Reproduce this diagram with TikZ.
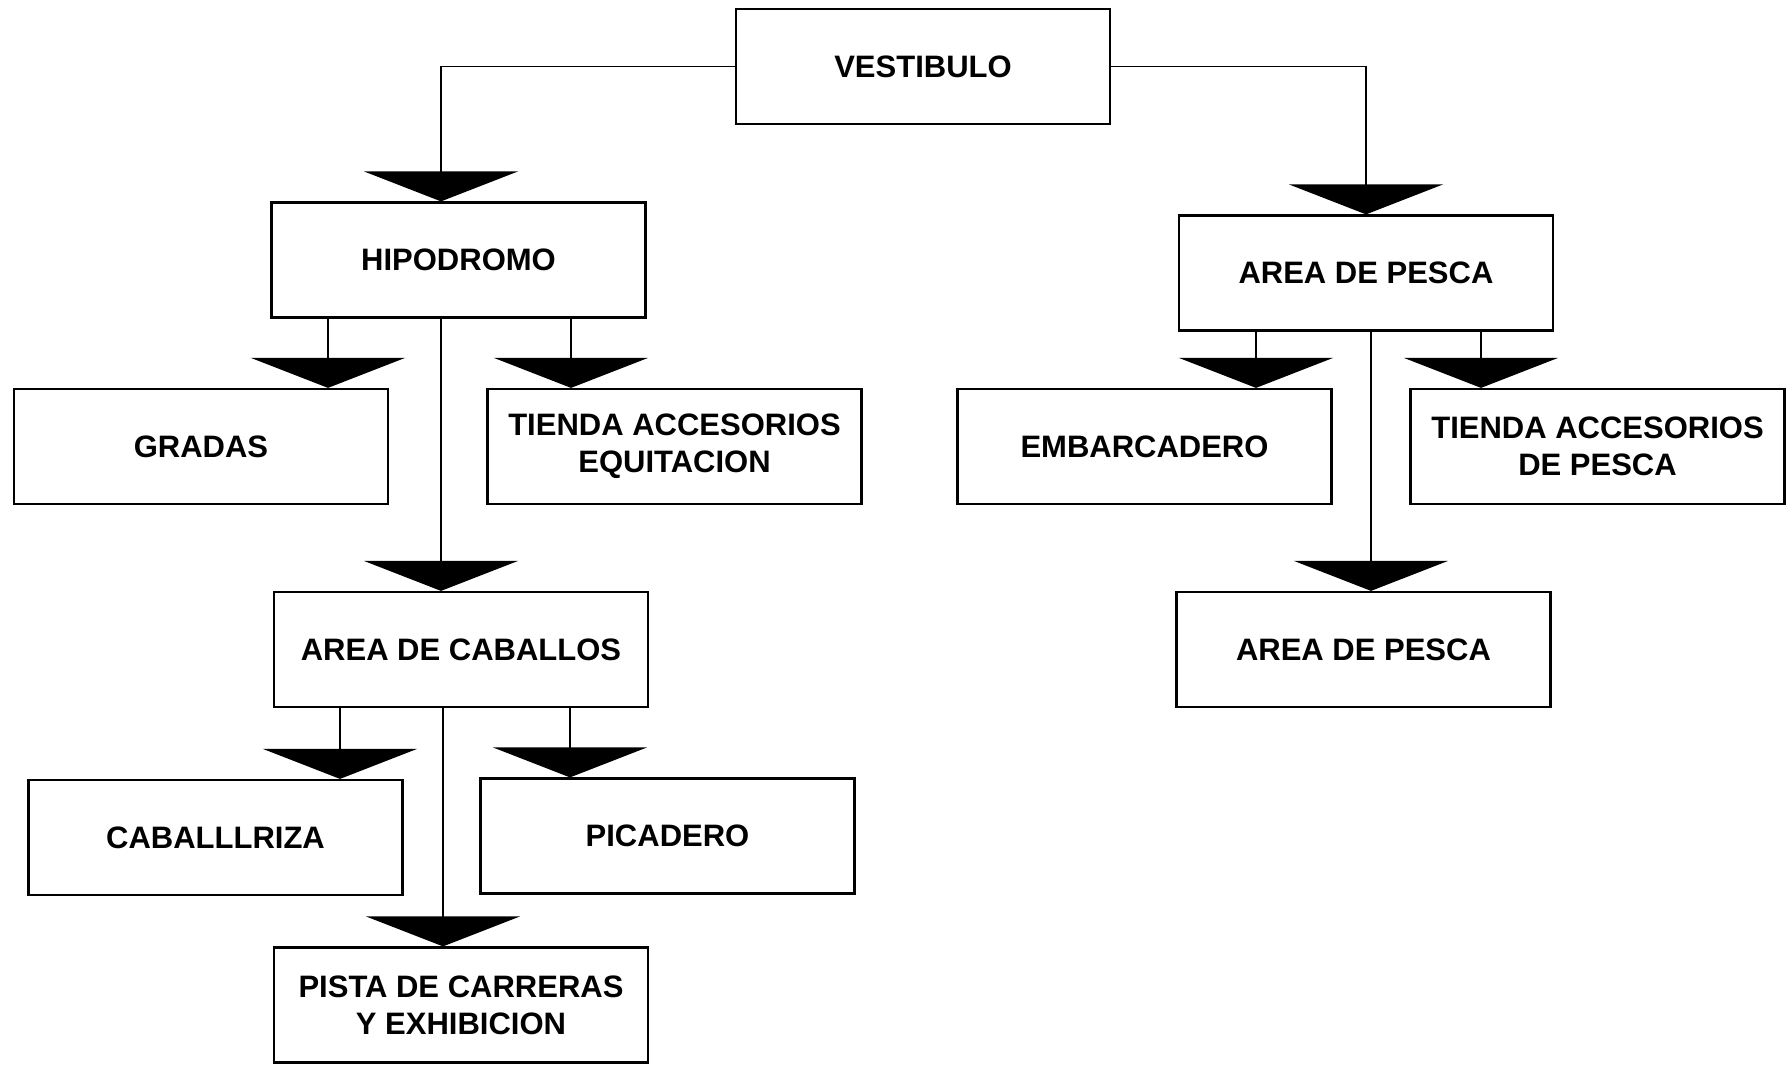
\documentclass[tikz,border=0pt]{standalone}
\usepackage{fontspec}
\setmainfont{Liberation Sans}
\usetikzlibrary{arrows.meta,positioning}

\begin{document}
\begin{tikzpicture}[x=0.5pt, y=-0.5pt,
    block/.style={rectangle, draw, line width=1.1pt, minimum width=187pt, minimum height=57.5pt, inner sep=2pt, align=center, font=\fontsize{15.5}{18.5}\selectfont\bfseries},
    arrow/.style={-{Triangle[width=77pt,length=15pt]}, line width=0.9pt}
]
    \useasboundingbox (0,0) rectangle (1791,1065);

    \node[block] (vest) at (923, 66.5) {VESTIBULO};

    % Hipodromo
    \node[block] (hipo) at (458.5, 260) {HIPODROMO};
    \node[block] (gradas) at (201, 446.5) {GRADAS};
    \node[block] (tiendaeq) at (674.5, 446.5) {TIENDA ACCESORIOS\\EQUITACION};
    \node[block] (caballos) at (461, 649.5) {AREA DE CABALLOS};
    \node[block] (caballeriza) at (215.5, 837.5) {CABALLLRIZA};
    \node[block] (picadero) at (667.5, 836) {PICADERO};
    \node[block] (pista) at (461, 1005) {PISTA DE CARRERAS\\Y EXHIBICION};

    % Pesca
    \node[block] (pesca) at (1366, 273) {AREA DE PESCA};
    \node[block] (embarcadero) at (1144.5, 446.5) {EMBARCADERO};
    \node[block] (tiendap) at (1597.5, 446.5) {TIENDA ACCESORIOS\\DE PESCA};
    \node[block] (pescab) at (1363.5, 649.5) {AREA DE PESCA};

    \draw[arrow] (vest.west) -| ([xshift=-8.75pt]hipo.north);
    \draw[arrow] (vest.east) -| (pesca.north);

    \draw[arrow] ([xshift=-65.25pt]hipo.south) -- ([xshift=-65.25pt]hipo.south |- gradas.north);
    \draw[arrow] ([xshift=56.25pt]hipo.south) -- ([xshift=56.25pt]hipo.south |- tiendaeq.north);
    \draw[arrow] ([xshift=-8.75pt]hipo.south) -- ([xshift=-8.75pt]hipo.south |- caballos.north);

    \draw[arrow] ([xshift=-60.5pt]caballos.south) -- ([xshift=-60.5pt]caballos.south |- caballeriza.north);
    \draw[arrow] ([xshift=54.5pt]caballos.south) -- ([xshift=54.5pt]caballos.south |- picadero.north);
    \draw[arrow] ([xshift=-9pt]caballos.south) -- ([xshift=-9pt]caballos.south |- pista.north);

    \draw[arrow] ([xshift=-55pt]pesca.south) -- ([xshift=-55pt]pesca.south |- embarcadero.north);
    \draw[arrow] ([xshift=57.5pt]pesca.south) -- ([xshift=57.5pt]pesca.south |- tiendap.north);
    \draw[arrow] ([xshift=2.5pt]pesca.south) -- ([xshift=2.5pt]pesca.south |- pescab.north);
\end{tikzpicture}
\end{document}
